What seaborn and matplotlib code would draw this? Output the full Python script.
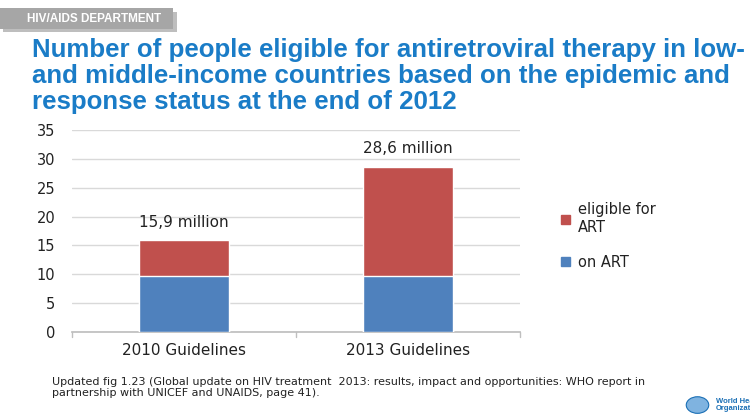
import matplotlib
matplotlib.use("Agg")
import matplotlib.pyplot as plt
import matplotlib.patches as mpatches
import seaborn as sns
import pandas as pd

categories = ["2010 Guidelines", "2013 Guidelines"]
on_art = [9.7, 9.7]
eligible_total = [15.9, 28.6]
total_labels = ["15,9 million", "28,6 million"]
y_ticks = [0, 5, 10, 15, 20, 25, 30, 35]

sns.set_theme(style="white")
plt.rcParams['font.family'] = ['DejaVu Sans']

RED = "#c0504d"
BLUE = "#4f81bd"
TITLE_BLUE = "#1a7cc7"

fig = plt.figure(figsize=(7.5, 4.15), dpi=100)
ax = fig.add_axes([0.096, 0.2, 0.597, 0.487])

df = pd.DataFrame({"cat": categories, "on": on_art, "tot": eligible_total})
sns.barplot(data=df, x="cat", y="tot", color=RED, saturation=1, width=0.4, ax=ax, zorder=3)
sns.barplot(data=df, x="cat", y="on", color=BLUE, saturation=1, width=0.4, ax=ax, zorder=3)

ax.set_xlim(-0.5, 1.5)
ax.set_ylim(0, 35)
ax.set_yticks(y_ticks)
ax.set_xlabel("")
ax.set_ylabel("")
ax.yaxis.grid(True, color="#d9d9d9", linewidth=1, zorder=0)
for s in ["top", "right", "left"]:
    ax.spines[s].set_visible(False)
ax.spines["bottom"].set_color("#bfbfbf")
ax.tick_params(axis="y", labelsize=10.5, colors="#222222", length=0, pad=12)
ax.tick_params(axis="x", labelsize=11, colors="#222222", length=0, pad=8)
# category separator ticks
for xv in [-0.5, 0.5, 1.5]:
    ax.plot([xv, xv], [0, -0.8], color="#bfbfbf", lw=1, clip_on=False, zorder=4)

for i, (t, lab) in enumerate(zip(eligible_total, total_labels)):
    ax.text(i, t + 1.8, lab, ha="center", va="bottom", fontsize=11, color="#222222")

handles = [mpatches.Patch(color=RED, label="eligible for\nART"),
           mpatches.Patch(color=BLUE, label="on ART")]
leg = fig.legend(handles=handles, loc="upper left", bbox_to_anchor=(0.74, 0.527),
                 frameon=False, fontsize=10.5, handlelength=0.6, handleheight=0.6,
                 labelspacing=1.4, handletextpad=0.6, borderaxespad=0)
for t in leg.get_texts():
    t.set_color("#222222")
    t.set_linespacing(1.2)

# header tab
fig.patches.append(mpatches.Rectangle((0.004, 0.922), 0.232, 0.05, transform=fig.transFigure,
                                      facecolor="#7f7f7f", alpha=0.5, edgecolor="none"))
fig.patches.append(mpatches.Rectangle((0, 0.93), 0.23, 0.05, transform=fig.transFigure,
                                      facecolor="#a6a6a6", edgecolor="none"))
fig.text(0.125, 0.955, "HIV/AIDS DEPARTMENT", ha="center", va="center", fontsize=8.5,
         fontweight="bold", color="white", family=["Liberation Sans", "DejaVu Sans"])

title = ("Number of people eligible for antiretroviral therapy in low-\n"
         "and middle-income countries based on the epidemic and\n"
         "response status at the end of 2012")
fig.text(0.042, 0.908, title, ha="left", va="top", fontsize=18.6, fontweight="bold",
         color=TITLE_BLUE, linespacing=1.1, family=["Liberation Sans", "DejaVu Sans"])

foot = ("Updated fig 1.23 (Global update on HIV treatment  2013: results, impact and opportunities: WHO report in\n"
        "partnership with UNICEF and UNAIDS, page 41).")
fig.text(0.069, 0.067, foot, ha="left", va="center", fontsize=8.0, color="#222222",
         linespacing=1.15)

fig.text(0.955, 0.008, "World Health\nOrganization", ha="left", va="bottom", fontsize=5.5,
         fontweight="bold", color="#1a6fb5", linespacing=0.95, family=["Liberation Sans", "DejaVu Sans"])
fig.patches.append(mpatches.Ellipse((0.93, 0.024), 0.03, 0.04, transform=fig.transFigure,
                                    facecolor="#7fb3e0", edgecolor="#1a6fb5", lw=0.8))

fig.savefig("out.png", dpi=100)
